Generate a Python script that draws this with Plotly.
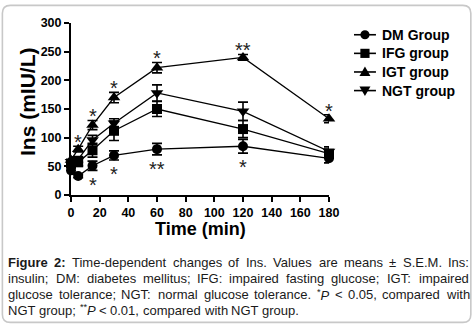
import plotly.graph_objects as go

# ---------------- data ----------------
times = [0, 5, 15, 30, 60, 120, 180]
group_names = ["DM Group", "IFG group", "IGT group", "NGT group"]
dm_mean = [43, 33, 51, 69, 80, 85, 64]
dm_sem = [4, 3, 8, 8, 10, 12, 8]
ifg_mean = [55, 57, 78, 112, 150, 115, 72]
ifg_sem = [6, 6, 12, 17, 13, 15, 8]
igt_mean = [61, 80, 122, 170, 222, 240, 133]
igt_sem = [5, 5, 8, 9, 9, 5, 7]
ngt_mean = [58, 62, 96, 125, 178, 146, 76]
ngt_sem = [5, 5, 8, 8, 14, 16, 8]
x_ticks = [0, 20, 40, 60, 80, 100, 120, 140, 160, 180]
y_ticks = [0, 50, 100, 150, 200, 250, 300]
# significance marks: (group index, time, label, side)
sig_group = [2, 2, 2, 2, 2, 2, 0, 0, 0, 0]
sig_time = [5, 15, 30, 60, 120, 180, 15, 30, 60, 120]
sig_label = ["*", "*", "*", "*", "**", "*", "*", "*", "**", "*"]
sig_side = [1, 1, 1, 1, 1, 1, -1, -1, -1, -1]

means = [dm_mean, ifg_mean, igt_mean, ngt_mean]
sems = [dm_sem, ifg_sem, igt_sem, ngt_sem]
symbols = ["circle", "square", "triangle-up", "triangle-down"]
msizes = [10, 10, 11, 11]

W, H = 476, 325
PX0, PX1 = 70.7, 329.0
PY0, PY1 = 195.5, 22.7


def pxx(px):
    return (px - PX0) / (PX1 - PX0)


def pxy(py):
    return (PY0 - py) / (PY0 - PY1)


FONT = "Arial, Liberation Sans, Helvetica, sans-serif"

fig = go.Figure()
for name, m, s, sym, ms in zip(group_names, means, sems, symbols, msizes):
    fig.add_trace(go.Scatter(
        x=times, y=m, name=name, mode="lines+markers",
        line=dict(color="black", width=1.3),
        marker=dict(symbol=sym, size=ms, color="black"),
        error_y=dict(type="data", array=s, visible=True, color="black",
                     thickness=1.6, width=5),
        cliponaxis=False, showlegend=False,
    ))

annotations = []
shapes = []
# significance asterisks
for g, t, lab, side in zip(sig_group, sig_time, sig_label, sig_side):
    i = times.index(t)
    yv = means[g][i] + side * (sems[g][i] + 16)
    annotations.append(dict(x=t, y=yv, xref="x", yref="y", text=lab,
                            showarrow=False, font=dict(family=FONT, size=20, color="#222"),
                            xanchor="center", yanchor="middle", yshift=-5))

# axis titles
annotations.append(dict(x=pxx(27), y=pxy(101.7), xref="paper", yref="paper",
                        text="Ins (mIU/L)", textangle=-90, showarrow=False,
                        font=dict(family=FONT, size=21, color="black", weight="bold"),
                        xanchor="center", yanchor="middle"))
annotations.append(dict(x=pxx(200), y=pxy(229.5), xref="paper", yref="paper",
                        text="Time (min)", showarrow=False,
                        font=dict(family=FONT, size=18, color="black", weight="bold"),
                        xanchor="center", yanchor="middle"))

# ---------------- legend (drawn manually) ----------------
LEG_X0, LEG_X1, LEG_MX, LEG_TX = 354.0, 376.0, 365.0, 381.0
LEG_Y0, LEG_DY = 34.5, 18.7
for k, name in enumerate(group_names):
    ly = LEG_Y0 + k * LEG_DY
    shapes.append(dict(type="line", xref="paper", yref="paper",
                       x0=pxx(LEG_X0), x1=pxx(LEG_X1), y0=pxy(ly), y1=pxy(ly),
                       line=dict(color="black", width=1.6)))
    r = 4.6
    sym = symbols[k]
    if sym == "circle":
        shapes.append(dict(type="circle", xref="paper", yref="paper",
                           x0=pxx(LEG_MX - r), x1=pxx(LEG_MX + r),
                           y0=pxy(ly + r), y1=pxy(ly - r),
                           fillcolor="black", line=dict(width=0)))
    elif sym == "square":
        shapes.append(dict(type="rect", xref="paper", yref="paper",
                           x0=pxx(LEG_MX - r), x1=pxx(LEG_MX + r),
                           y0=pxy(ly + r), y1=pxy(ly - r),
                           fillcolor="black", line=dict(width=0)))
    else:
        d = -1 if sym == "triangle-up" else 1
        pts = [(LEG_MX - 5.5, ly - d * 4), (LEG_MX + 5.5, ly - d * 4), (LEG_MX, ly + d * 5.5)]
        p = "M " + " L ".join(f"{pxx(a):.5f},{pxy(b):.5f}" for a, b in pts) + " Z"
        shapes.append(dict(type="path", xref="paper", yref="paper", path=p,
                           fillcolor="black", line=dict(width=0)))
    annotations.append(dict(x=pxx(LEG_TX), y=pxy(ly), xref="paper", yref="paper",
                            text=name, showarrow=False, borderpad=0,
                            font=dict(family=FONT, size=14, color="black", weight="bold"),
                            xanchor="left", yanchor="middle"))

# ---------------- caption with justified lines ----------------
REG = {' ': 278, ',': 278, '-': 333, '.': 278, ':': 278, ';': 278, '<': 584, '±': 549, '*': 389,
       'A': 667, 'B': 667, 'C': 722, 'D': 722, 'E': 667, 'F': 611, 'G': 778, 'H': 722, 'I': 278,
       'J': 500, 'K': 667, 'L': 556, 'M': 833, 'N': 722, 'O': 778, 'P': 667, 'Q': 778, 'R': 722,
       'S': 667, 'T': 611, 'U': 722, 'V': 667, 'W': 944, 'X': 667, 'Y': 667, 'Z': 611,
       'a': 556, 'b': 556, 'c': 500, 'd': 556, 'e': 556, 'f': 278, 'g': 556, 'h': 556, 'i': 222,
       'j': 222, 'k': 500, 'l': 222, 'm': 833, 'n': 556, 'o': 556, 'p': 556, 'q': 556, 'r': 333,
       's': 500, 't': 278, 'u': 556, 'v': 500, 'w': 722, 'x': 500, 'y': 500, 'z': 500}
BOLD = {'F': 611, 'i': 278, 'g': 611, 'u': 611, 'r': 389, 'e': 556, '2': 556, ':': 333}
CS = 13


def wid(s, bold=False, scale=1.0):
    tot = 0
    for ch in s:
        if ch.isdigit() and not bold:
            tot += 556
        else:
            tot += (BOLD if bold else REG).get(ch, 556)
    return tot / 1000 * CS * scale


def tok(text):
    return (text.replace("<", "&lt;"), wid(text))


lines = [
    [("<b>Figure</b>", wid("Figure", True)), ("<b>2:</b>", wid("2:", True))]
    + [tok(w) for w in "Time-dependent changes of Ins. Values are means ± S.E.M. Ins:".split(" ")],
    [tok(w) for w in "insulin; DM: diabetes mellitus; IFG: impaired fasting glucose; IGT: impaired".split(" ")],
    [tok(w) for w in "glucose tolerance; NGT: normal glucose tolerance.".split(" ")]
    + [("<sup>*</sup><i>P</i>", wid("*", scale=0.7) + wid("P")), tok("<"), tok("0.05,"),
       tok("compared"), tok("with")],
    [tok(w) for w in "NGT group;".split(" ")]
    + [("<sup>**</sup><i>P</i>", wid("**", scale=0.7) + wid("P")), tok("<"), tok("0.01,"),
       tok("compared"), tok("with"), tok("NGT"), tok("group.")],
]
LX0, LX1 = 7.0, 468.0
line_y = [263.5, 279.5, 295.5, 311.5]
for li, (toks, ly) in enumerate(zip(lines, line_y)):
    natural = sum(w for _, w in toks)
    gaps = len(toks) - 1
    gap = (LX1 - LX0 - natural) / gaps if li < 3 else wid(" ")
    xcur = LX0
    for html, w in toks:
        annotations.append(dict(x=pxx(xcur), y=pxy(ly), xref="paper", yref="paper",
                                text=html, showarrow=False, borderpad=0,
                                font=dict(family=FONT, size=CS, color="#1a1a1a"),
                                xanchor="left", yanchor="middle"))
        xcur += w + gap

# rounded frame
fx0, fx1, fy0, fy1, rr = 2.0, 471.0, 5.0, 323.5, 8.0


def P(px, py):
    return f"{pxx(px):.5f},{pxy(py):.5f}"


path = (f"M {P(fx0 + rr, fy0)} L {P(fx1 - rr, fy0)} Q {P(fx1, fy0)} {P(fx1, fy0 + rr)} "
        f"L {P(fx1, fy1 - rr)} Q {P(fx1, fy1)} {P(fx1 - rr, fy1)} "
        f"L {P(fx0 + rr, fy1)} Q {P(fx0, fy1)} {P(fx0, fy1 - rr)} "
        f"L {P(fx0, fy0 + rr)} Q {P(fx0, fy0)} {P(fx0 + rr, fy0)} Z")
shapes.append(dict(type="path", path=path, xref="paper", yref="paper",
                   line=dict(color="#c8c8c8", width=1.6), layer="below"))

fig.update_layout(
    width=W, height=H,
    margin=dict(l=PX0, r=W - PX1, t=PY1, b=H - PY0, pad=0),
    paper_bgcolor="white", plot_bgcolor="white",
    showlegend=False,
    xaxis=dict(range=[0, 180], tickvals=x_ticks, showgrid=False, zeroline=False,
               showline=True, linecolor="black", linewidth=2,
               ticks="outside", ticklen=5, tickwidth=2, tickcolor="black",
               tickfont=dict(family=FONT, size=12.5, color="black", weight="bold")),
    yaxis=dict(range=[0, 300], tickvals=y_ticks, showgrid=False, zeroline=False,
               showline=True, linecolor="black", linewidth=2,
               ticks="outside", ticklen=5, tickwidth=2, tickcolor="black",
               tickfont=dict(family=FONT, size=12.5, color="black", weight="bold")),
    annotations=annotations,
    shapes=shapes,
)

fig.write_html("out.html", config={"displayModeBar": False},
               post_script="document.body.style.margin='0';document.body.style.padding='0';")
